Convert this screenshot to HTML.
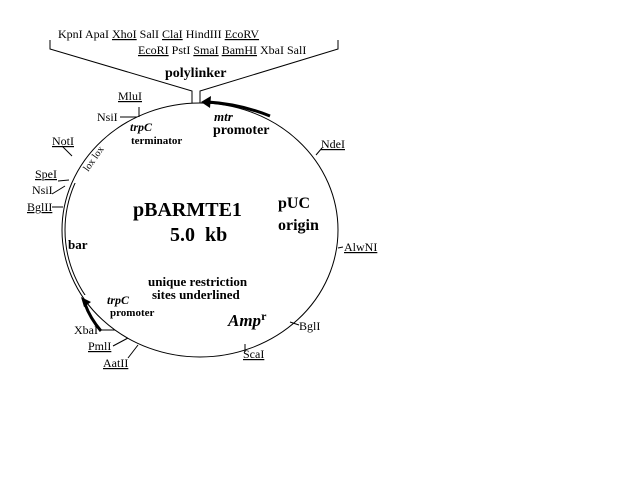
<!DOCTYPE html>
<html><head><style>
html,body{margin:0;padding:0;background:#fff;}
svg{display:block;}
text{font-family:"Liberation Serif",serif;fill:#000;}
.s{font-size:12px;}
.b{font-weight:bold;}
</style></head><body>
<svg width="640" height="480" viewBox="0 0 640 480">
<defs><clipPath id="c"><rect x="50" y="183" width="60" height="112"/></clipPath></defs>
<g fill="none" stroke="#000" stroke-width="1">
<ellipse cx="200" cy="230" rx="138" ry="127"/>
<ellipse cx="200" cy="230" rx="135" ry="124" clip-path="url(#c)"/>
<polyline points="50,40 50,49 192,91 192,103"/>
<polyline points="338,40 338,49 200,91 200,103"/>
<line x1="139" y1="107" x2="139" y2="117"/>
<line x1="120" y1="117" x2="137" y2="117"/>
<line x1="62" y1="146" x2="72" y2="156"/>
<line x1="58" y1="181" x2="69" y2="180"/>
<line x1="52" y1="194" x2="65" y2="186"/>
<line x1="52" y1="207" x2="63" y2="207"/>
<line x1="316" y1="155" x2="322" y2="148"/>
<line x1="338" y1="248" x2="343" y2="247"/>
<line x1="290" y1="322" x2="299" y2="325"/>
<line x1="245" y1="344" x2="245" y2="352"/>
<line x1="100" y1="330" x2="115" y2="330"/>
<line x1="113" y1="346" x2="128" y2="338"/>
<line x1="128" y1="358" x2="138" y2="345"/>
</g>
<path d="M 270,116 Q 240,104 208,102" fill="none" stroke="#000" stroke-width="3"/>
<polygon points="201,102 211,96 210,108" fill="#000"/>
<path d="M 101,331 Q 90,318 85,304" fill="none" stroke="#000" stroke-width="3"/>
<polygon points="81,297 91,302 84,307" fill="#000"/>

<text class="s" x="58" y="38">KpnI ApaI <tspan text-decoration="underline">XhoI</tspan> SalI <tspan text-decoration="underline">ClaI</tspan> HindIII <tspan text-decoration="underline">EcoRV</tspan></text>
<text class="s" x="138" y="54"><tspan text-decoration="underline">EcoRI</tspan> PstI <tspan text-decoration="underline">SmaI</tspan> <tspan text-decoration="underline">BamHI</tspan> XbaI SalI</text>
<text class="b" x="165" y="77" font-size="14">polylinker</text>

<text class="s" x="118" y="100" text-decoration="underline">MluI</text>
<text class="s" x="97" y="121">NsiI</text>
<text class="s" x="52" y="145" text-decoration="underline">NotI</text>
<text class="s" x="35" y="178" text-decoration="underline">SpeI</text>
<text class="s" x="32" y="194">NsiI</text>
<text class="s" x="27" y="211" text-decoration="underline">BglII</text>
<text x="0" y="0" font-size="10" transform="translate(88,172) rotate(-55)">lox lox</text>

<text class="b" x="130" y="131" font-size="12" font-style="italic">trpC</text>
<text class="b" x="131" y="144" font-size="11">terminator</text>
<text class="b" x="214" y="121" font-size="13" font-style="italic">mtr</text>
<text class="b" x="213" y="134" font-size="14">promoter</text>
<text class="s" x="321" y="148" text-decoration="underline">NdeI</text>
<text class="b" x="278" y="208" font-size="16">pUC</text>
<text class="b" x="278" y="230" font-size="16">origin</text>
<text class="s" x="344" y="251" text-decoration="underline">AlwNI</text>
<text class="b" x="133" y="216" font-size="20">pBARMTE1</text>
<text class="b" x="170" y="241" font-size="20">5.0&#160; kb</text>
<text class="b" x="68" y="249" font-size="13">bar</text>
<text class="b" x="148" y="286" font-size="13">unique restriction</text>
<text class="b" x="152" y="299" font-size="13">sites underlined</text>
<text class="b" x="228" y="326" font-size="17" font-style="italic">Amp<tspan font-size="12" dy="-6" font-style="normal">r</tspan></text>
<text class="s" x="299" y="330">BglI</text>
<text class="s" x="243" y="358" text-decoration="underline">ScaI</text>
<text class="b" x="107" y="304" font-size="12" font-style="italic">trpC</text>
<text class="b" x="110" y="316" font-size="11">promoter</text>
<text class="s" x="74" y="334">XbaI</text>
<text class="s" x="88" y="350" text-decoration="underline">PmlI</text>
<text class="s" x="103" y="367" text-decoration="underline">AatII</text>
</svg>
</body></html>
